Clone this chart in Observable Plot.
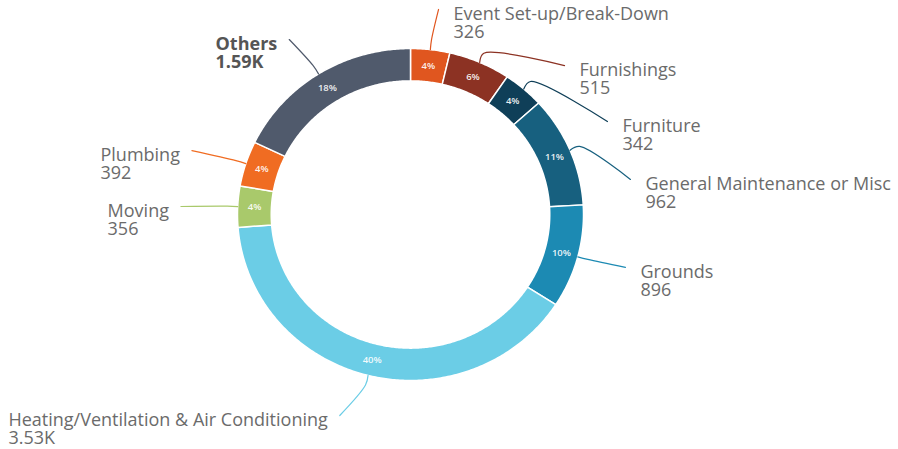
<!DOCTYPE html>
<html>
<head>
<meta charset="utf-8">
<script src="https://cdn.jsdelivr.net/npm/d3@7"></script>
<script src="https://cdn.jsdelivr.net/npm/@observablehq/plot@0.6"></script>
<style>
  html, body { margin: 0; padding: 0; background: #ffffff; }
  #chart svg { display: block; }
</style>
</head>
<body>
<div id="chart"></div>
<script>
// ---- data ----
const categories = [
  "Event Set-up/Break-Down",
  "Furnishings",
  "Furniture",
  "General Maintenance or Misc",
  "Grounds",
  "Heating/Ventilation & Air Conditioning",
  "Moving",
  "Plumbing",
  "Others"
];
const counts = [326, 515, 342, 962, 896, 3530, 356, 392, 1590];
const valueLabels = ["326", "515", "342", "962", "896", "3.53K", "356", "392", "1.59K"];
const percentLabels = ["4%", "6%", "4%", "11%", "10%", "40%", "4%", "4%", "18%"];
const colors = ["#e0561f", "#8c3223", "#0f3f58", "#17607f", "#1c8ab3", "#6bcde6", "#a9c96b", "#f06c22", "#505a6c"];

// ---- layout (label anchors, in ring-radius units) ----
const labelX = [0.249, 0.977, 1.225, 1.358, 1.329, -2.324, -1.751, -1.792, -1.127];
const labelY = [-1.205, -0.867, -0.530, -0.181, 0.349, 1.241, -0.018, -0.355, -1.024];

const RX = 173, RY = 166;        // ring radii in px (x and y scales)
const INNER = 0.805;             // inner radius ratio
const FONT = 18, LINE = 18;

const total = d3.sum(counts);
let acc = 0;
const segs = categories.map((cat, i) => {
  const a0 = acc / total * 2 * Math.PI;
  acc += counts[i];
  const a1 = acc / total * 2 * Math.PI;
  return {cat, i, a0, a1, mid: (a0 + a1) / 2};
});

const polar = (r, a) => ({x: r * Math.sin(a), y: -r * Math.cos(a)});

// ring polygons
const ring = [];
for (const s of segs) {
  const n = Math.max(4, Math.ceil((s.a1 - s.a0) / 0.01));
  const outer = d3.range(n + 1).map(k => polar(1, s.a0 + (s.a1 - s.a0) * k / n));
  const inner = d3.range(n + 1).map(k => polar(INNER, s.a1 - (s.a1 - s.a0) * k / n));
  const pts = [...outer, ...inner, outer[0]];
  for (const p of pts) ring.push({cat: s.cat, x: p.x, y: p.y});
}

// percentage labels
const pct = segs.map(s => ({...polar((1 + INNER) / 2, s.mid), t: percentLabels[s.i]}));

// text width helper
const ctx = document.createElement("canvas").getContext("2d");
function textWidth(t, weight) {
  ctx.font = `${weight} ${FONT}px "Open Sans"`;
  return ctx.measureText(t).width;
}

// labels and leaders
const labels = segs.map(s => {
  const bold = s.cat === "Others";
  const left = labelX[s.i] < 0;
  const w = Math.max(textWidth(s.cat, bold ? 700 : 400), textWidth(valueLabels[s.i], bold ? 700 : 400));
  const ex = left ? labelX[s.i] + (w + 12) / RX : labelX[s.i] - 15 / RX;
  const ey = labelY[s.i] - 5 / RY;
  return {
    cat: s.cat, i: s.i, x: labelX[s.i], y: labelY[s.i] + (LINE / 2) / RY,
    text: s.cat + "\n" + valueLabels[s.i], ex, ey, bold, mid: s.mid
  };
});
const leaders = [];
for (const l of labels) {
  const p0 = polar(1.0, l.mid), p1 = polar(1.06, l.mid);
  leaders.push({cat: l.cat, x: p0.x, y: p0.y});
  leaders.push({cat: l.cat, x: p1.x, y: p1.y});
  leaders.push({cat: l.cat, x: l.ex, y: l.ey});
}

const chart = Plot.plot({
  width: 898,
  height: 449,
  margin: 0,
  x: {domain: [-1, 1], range: [410 - RX, 410 + RX], axis: null},
  y: {domain: [-1, 1], range: [214 - RY, 214 + RY], axis: null},
  color: {domain: categories, range: colors},
  style: {fontFamily: "'Open Sans', sans-serif", background: "#ffffff"},
  marks: [
    Plot.line(ring, {x: "x", y: "y", z: "cat", fill: "cat", stroke: "#ffffff", strokeWidth: 1.5, curve: "linear"}),
    Plot.text(pct, {x: "x", y: "y", text: "t", fill: "#ffffff", fontSize: 9.5, fontWeight: 600, fillOpacity: 0.92}),
    Plot.line(leaders, {x: "x", y: "y", z: "cat", stroke: "cat", strokeWidth: 1.2, curve: "catmull-rom"}),
    Plot.text(labels.filter(d => !d.bold), {x: "x", y: "y", text: "text", lineHeight: LINE / FONT, lineAnchor: "middle", textAnchor: "start", fill: "#6b6b6b", fontSize: FONT}),
    Plot.text(labels.filter(d => d.bold), {x: "x", y: "y", text: "text", lineHeight: LINE / FONT, lineAnchor: "middle", textAnchor: "start", fill: "#555555", fontWeight: 700, fontSize: FONT})
  ]
});
document.getElementById("chart").appendChild(chart);
</script>
</body>
</html>
